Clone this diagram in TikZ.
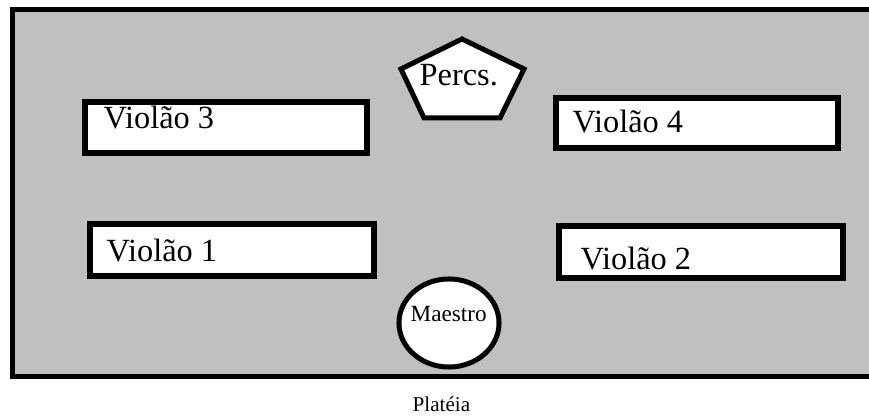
\documentclass[tikz,border=0pt]{standalone}
\usepackage{fontspec}
\setmainfont{Liberation Serif}
\usetikzlibrary{shapes.geometric}
\definecolor{palco}{HTML}{C0C0C0}
\begin{document}
\begin{tikzpicture}[x=0.01cm,y=-0.01cm,
    box/.style={draw,line width=0.06cm,fill=white,inner sep=0pt},
    lbl/.style={anchor=base west,inner sep=0pt,font=\fontsize{9.2}{11}\selectfont}]
  \useasboundingbox (0,0) rectangle (869,416);
  \clip (0,0) rectangle (869,416);
  % palco
  \draw[line width=0.05cm,fill=palco] (12.5,10) rectangle (890,377);

  \foreach \n/\x/\y/\w/\h/\tx/\ty in {3/226/127.5/282/51/103/129,
                                       4/697/123/282/50/572/133,
                                       1/232/250/284/52/106/262,
                                       2/701/252/284/52/580/270} {
    \node[box,minimum width=\w*0.01cm,minimum height=\h*0.01cm] (v\n) at (\x,\y) {};
    \node[lbl] (v\n t) at (\tx,\ty) {Violão \n};
  }

  % percussao
  \draw[line width=0.05cm,fill=white] (462,39) -- (524,69) -- (500,118) -- (424,118) -- (401,69) -- cycle;
  \node[lbl] (percs) at (419,86) {Percs.};

  \node[draw,ellipse,line width=0.05cm,fill=white,inner sep=0pt,
        minimum width=1cm,minimum height=0.88cm] (maestro) at (449,323) {};
  \node[lbl,font=\fontsize{6.6}{8}\selectfont] (maestrot) at (410,322) {Maestro};

  \node[lbl,font=\fontsize{6}{7}\selectfont] (plateia) at (412,412) {Platéia};
\end{tikzpicture}
\end{document}
